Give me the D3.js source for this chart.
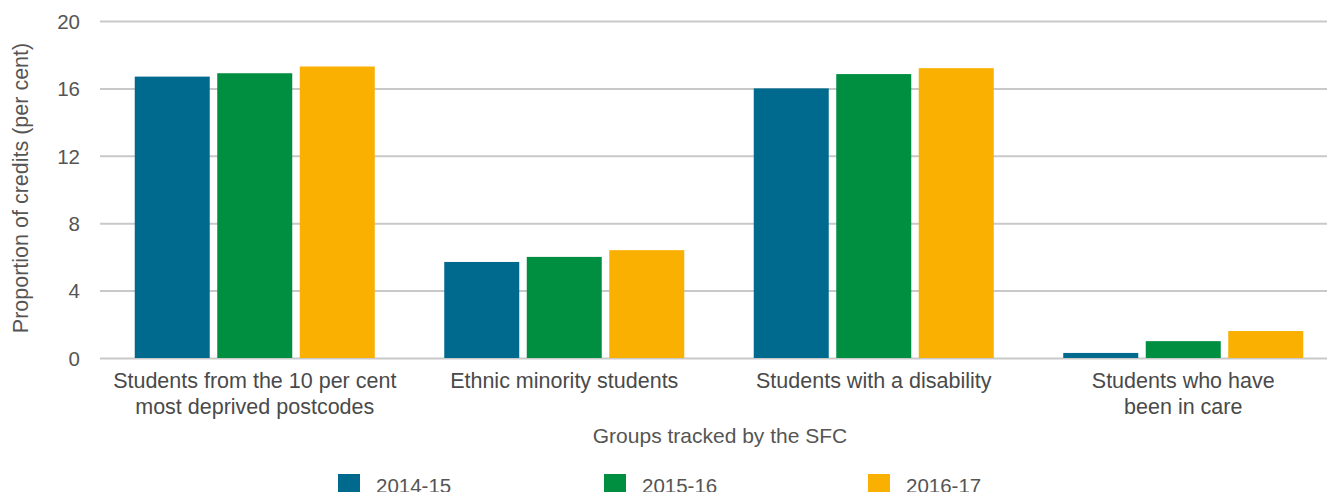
<!DOCTYPE html>
<html><head><meta charset="utf-8">
<script src="https://cdn.jsdelivr.net/npm/d3@7"></script>
<style>
html,body{margin:0;padding:0;background:#fff;overflow:hidden}
svg{display:block;font-family:"Liberation Sans",Arial,sans-serif}
</style></head>
<body>
<svg id="chart" width="1327" height="492"></svg>
<script>
const categories = [
  ["Students from the 10 per cent", "most deprived postcodes"],
  ["Ethnic minority students"],
  ["Students with a disability"],
  ["Students who have", "been in care"]
];
const seriesNames = ["2014-15", "2015-16", "2016-17"];
const values2014 = [16.7, 5.7, 16.0, 0.3];
const values2015 = [16.9, 6.0, 16.85, 1.0];
const values2016 = [17.3, 6.4, 17.2, 1.6];
const yTicks = [0, 4, 8, 12, 16, 20];
const colors = ["#006a8e", "#008e40", "#f9b000"];
const series = [values2014, values2015, values2016];

const svg = d3.select("#chart");
const y = d3.scaleLinear().domain([0, 20]).range([358, 21]);
const x0 = d3.scaleBand().domain(d3.range(categories.length)).range([100, 1338]).padding(0);
const inner = 240;
const x1 = d3.scaleBand().domain(d3.range(series.length)).range([0, inner]).paddingInner(0.091);
const off = (x0.bandwidth() - inner) / 2;

// gridlines
const yAxis = d3.axisLeft(y).tickValues(yTicks).tickSize(-1240).tickPadding(20);
const gy = svg.append("g").attr("transform", "translate(100,0)").call(yAxis);
gy.select(".domain").remove();
gy.selectAll(".tick line").attr("stroke", "#c9c9c9").attr("stroke-width", 2);
gy.selectAll(".tick text").attr("fill", "#555").style("font-size", "20.5px").style("font-family", "'Liberation Sans',Arial,sans-serif").attr("dy", "0.36em");

// bars
series.forEach((vals, si) => {
  svg.append("g").selectAll("rect").data(vals).join("rect")
    .attr("x", (d, i) => x0(i) + off + x1(si))
    .attr("width", x1.bandwidth())
    .attr("y", d => y(d))
    .attr("height", d => y(0) - y(d))
    .attr("fill", colors[si]);
});

// x labels
const gx = svg.append("g");
categories.forEach((lines, i) => {
  const cx = x0(i) + x0.bandwidth() / 2;
  const t = gx.append("text").attr("x", cx).attr("y", 388)
    .attr("text-anchor", "middle").attr("fill", "#4a4a4a").style("font-size", "21.5px");
  lines.forEach((l, k) => t.append("tspan").attr("x", cx).attr("dy", k ? 26 : 0).text(l));
});

// axis titles
svg.append("text").attr("x", 720).attr("y", 443).attr("text-anchor", "middle")
  .attr("fill", "#555").style("font-size", "21px").text("Groups tracked by the SFC");
svg.append("text").attr("transform", "translate(28,188) rotate(-90)").attr("text-anchor", "middle")
  .attr("fill", "#555").style("font-size", "21.5px").text("Proportion of credits (per cent)");

// legend
const legendX = [338, 604, 868];
seriesNames.forEach((n, i) => {
  svg.append("rect").attr("x", legendX[i]).attr("y", 474).attr("width", 22).attr("height", 22).attr("fill", colors[i]);
  svg.append("text").attr("x", legendX[i] + 38).attr("y", 493).attr("fill", "#555").style("font-size", "20.5px").text(n);
});
</script>
</body></html>
